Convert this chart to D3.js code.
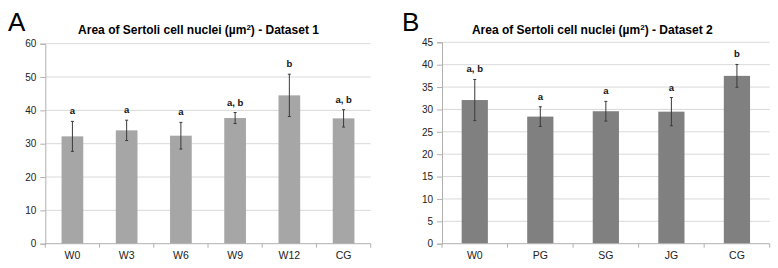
<!DOCTYPE html>
<html>
<head>
<meta charset="utf-8">
<script src="https://cdn.jsdelivr.net/npm/d3@7"></script>
<style>
  body { margin: 0; background: #fff; }
  svg text { font-family: "Liberation Sans", Arial, Helvetica, sans-serif; }
</style>
</head>
<body>
<div id="chart"></div>
<script>
// data, panel A
var catsA = ["W0", "W3", "W6", "W9", "W12", "CG"];
var meanA = [32.2, 34.0, 32.4, 37.7, 44.5, 37.6];
var sdA = [4.5, 3.05, 4.0, 1.65, 6.35, 2.6];
var sigA = ["a", "a", "a", "a, b", "b", "a, b"];
var ticksA = [0, 10, 20, 30, 40, 50, 60];

// data, panel B
var catsB = ["W0", "PG", "SG", "JG", "CG"];
var meanB = [32.1, 28.4, 29.6, 29.5, 37.5];
var sdB = [4.6, 2.2, 2.2, 3.15, 2.55];
var sigB = ["a, b", "a", "a", "a", "b"];
var ticksB = [0, 5, 10, 15, 20, 25, 30, 35, 40, 45];

var W = 778, H = 268;

var svg = d3.select("#chart").append("svg")
    .attr("width", W)
    .attr("height", H);

function panel(opt) {
  var x = d3.scaleBand()
      .domain(opt.cats)
      .range([opt.left, opt.right])
      .paddingInner(0.6)
      .paddingOuter(0.3);

  var y = d3.scaleLinear()
      .domain([0, opt.ticks[opt.ticks.length - 1]])
      .range([243.7, opt.top]);

  var g = svg.append("g");

  // panel letter
  g.append("text")
   .attr("x", opt.letterX)
   .attr("y", 31)
   .style("font-size", "26px")
   .text(opt.letter);

  // title
  var t = g.append("text")
   .attr("x", opt.titleX)
   .attr("y", 34)
   .attr("text-anchor", "middle")
   .style("font-size", "12px")
   .style("font-weight", "bold");
  t.append("tspan").text(opt.title[0]);
  t.append("tspan").attr("dy", -4).style("font-size", "8px").text("2");
  t.append("tspan").attr("dy", 4).text(opt.title[1]);

  // gridlines
  g.selectAll(".grid")
   .data(opt.ticks.slice(1))
   .enter().append("line")
   .attr("x1", opt.left)
   .attr("x2", opt.right)
   .attr("y1", function(d) { return y(d); })
   .attr("y2", function(d) { return y(d); })
   .attr("stroke", "#d9d9d9")
   .attr("stroke-width", 1);

  // y axis
  var ya = g.append("g")
   .attr("transform", "translate(" + opt.left + ",0)")
   .call(d3.axisLeft(y).tickValues(opt.ticks).tickSize(5).tickPadding(4));
  ya.select(".domain").attr("stroke", "#b0b0b0");
  ya.selectAll(".tick line").attr("stroke", "#b0b0b0");
  ya.selectAll("text").style("font-size", "10px").attr("fill", "#222");

  // bars
  g.selectAll(".bar")
   .data(opt.mean)
   .enter().append("rect")
   .attr("x", function(d, i) { return x(opt.cats[i]); })
   .attr("width", x.bandwidth())
   .attr("y", function(d) { return y(d); })
   .attr("height", function(d) { return y(0) - y(d); })
   .attr("fill", opt.color);

  // x axis
  var xa = g.append("g")
   .attr("transform", "translate(0," + y(0) + ")")
   .call(d3.axisBottom(x).tickSize(0).tickPadding(8));
  xa.select(".domain").remove();
  xa.selectAll("text").style("font-size", "10.5px").attr("fill", "#222");
  g.append("line")
   .attr("x1", opt.left).attr("x2", opt.right)
   .attr("y1", y(0)).attr("y2", y(0))
   .attr("stroke", "#b0b0b0");
  // category boundary ticks
  var step = x.step();
  var bounds = d3.range(opt.cats.length + 1);
  g.selectAll(".bt")
   .data(bounds)
   .enter().append("line")
   .attr("x1", function(d) { return opt.left + d * step; })
   .attr("x2", function(d) { return opt.left + d * step; })
   .attr("y1", y(0))
   .attr("y2", y(0) + 4)
   .attr("stroke", "#b0b0b0");

  // error bars
  var cx = function(i) { return x(opt.cats[i]) + x.bandwidth() / 2; };
  var eb = g.selectAll(".err")
   .data(opt.mean)
   .enter().append("g");
  eb.append("line")
   .attr("x1", function(d, i) { return cx(i); })
   .attr("x2", function(d, i) { return cx(i); })
   .attr("y1", function(d, i) { return y(d + opt.sd[i]); })
   .attr("y2", function(d, i) { return y(d - opt.sd[i]); })
   .attr("stroke", "#3a3a3a")
   .attr("stroke-width", 1);
  [1, -1].forEach(function(s) {
    eb.append("line")
     .attr("x1", function(d, i) { return cx(i) - 1.5; })
     .attr("x2", function(d, i) { return cx(i) + 1.5; })
     .attr("y1", function(d, i) { return y(d + s * opt.sd[i]); })
     .attr("y2", function(d, i) { return y(d + s * opt.sd[i]); })
     .attr("stroke", "#3a3a3a")
     .attr("stroke-width", 1);
  });

  // significance letters
  g.selectAll(".sig")
   .data(opt.sig)
   .enter().append("text")
   .attr("x", function(d, i) { return cx(i); })
   .attr("y", function(d, i) { return y(opt.mean[i] + opt.sd[i]) - 7; })
   .attr("text-anchor", "middle")
   .style("font-size", "9.5px")
   .style("font-weight", "bold")
   .attr("fill", "#111")
   .text(function(d) { return d; });
}

panel({
  cats: catsA, mean: meanA, sd: sdA, sig: sigA, ticks: ticksA,
  left: 45.3, right: 370.7, top: 43.7, color: "#a6a6a6",
  letter: "A", letterX: 8, titleX: 198.5,
  title: ["Area of Sertoli cell nuclei (\u00b5m", ") - Dataset 1"]
});

panel({
  cats: catsB, mean: meanB, sd: sdB, sig: sigB, ticks: ticksB,
  left: 442, right: 769.7, top: 42.3, color: "#808080",
  letter: "B", letterX: 402, titleX: 592.3,
  title: ["Area of Sertoli cell nuclei (\u00b5m", ") - Dataset 2"]
});
</script>
</body>
</html>
